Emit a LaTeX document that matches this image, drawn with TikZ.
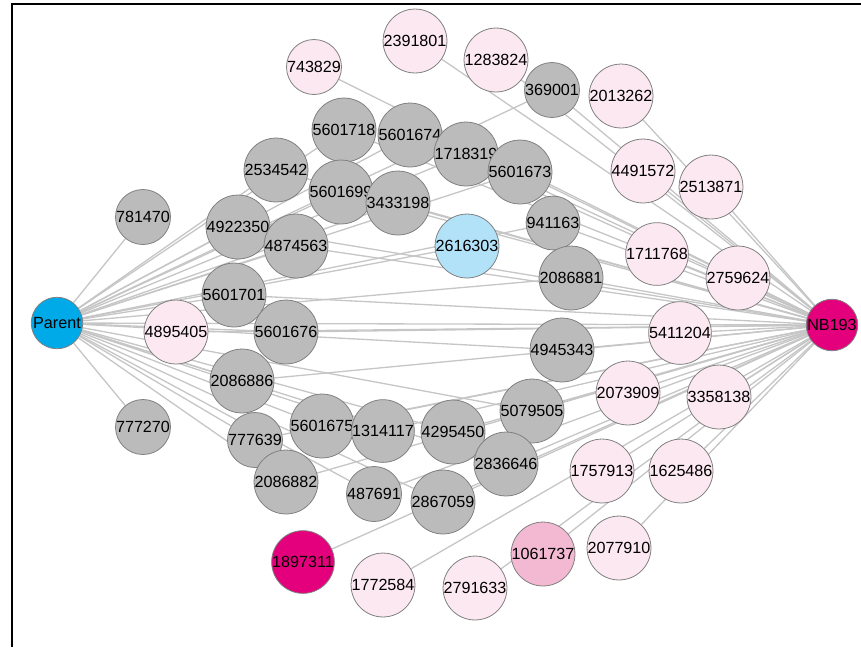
\documentclass[tikz,border=0pt]{standalone}
\usepackage{fontspec}
\setmainfont{Liberation Sans}
\usetikzlibrary{backgrounds}

\begin{document}
\begin{tikzpicture}[x=0.02cm, y=-0.02cm]

\definecolor{parentblue}{RGB}{0, 169, 232}
\definecolor{nbmagenta}{RGB}{228, 0, 124}
\definecolor{nodegrey}{RGB}{187, 187, 187}
\definecolor{palepink}{RGB}{252, 232, 240}
\definecolor{midpink}{RGB}{243, 184, 210}
\definecolor{paleblue}{RGB}{178, 226, 248}
\definecolor{edgegrey}{RGB}{198, 198, 198}

\useasboundingbox (0,0) rectangle (861,647);

% Frame
\draw[line width=1pt] (12,647) -- (12,4) -- (861,4);

\tikzset{
    animal/.style={
        circle, draw=black!50, line width=0.45pt,
        minimum size=1.03cm, inner sep=0pt,
        font=\fontsize{9.2}{10}\selectfont
    },
    shared/.style={animal, fill=nodegrey},
    offspring/.style={animal, fill=palepink},
    carrier/.style={animal, fill=nbmagenta},
    kin/.style={
        draw=edgegrey, line width=0.75pt
    }
}

% --- THE TWO FOCAL ANIMALS ---
\node[animal, fill=parentblue] (Parent) at (57,323) {Parent};
\node[carrier] (NB193) at (832,325) {NB193};

% --- GREY NODES (shared) ---
\node[shared] (n781470) at (143,217) {781470};
\node[shared] (n777270) at (143,427) {777270};
\node[shared] (n5601718) at (344,130) {5601718};
\node[shared] (n5601674) at (410,135) {5601674};
\node[shared] (n2534542) at (276,170) {2534542};
\node[shared] (n5601699) at (341,192) {5601699};
\node[shared] (n3433198) at (398,203) {3433198};
\node[shared] (n4922350) at (238,227) {4922350};
\node[shared] (n4874563) at (296,246) {4874563};
\node[shared] (n5601701) at (234,295) {5601701};
\node[shared] (n5601676) at (286,332) {5601676};
\node[shared] (n2086886) at (242,381) {2086886};
\node[shared] (n777639) at (255,440) {777639};
\node[shared] (n5601675) at (322,426) {5601675};
\node[shared] (n1314117) at (383,431) {1314117};
\node[shared] (n2086882) at (286,482) {2086882};
\node[shared] (n487691) at (374,494) {487691};
\node[shared] (n1718319) at (466,154) {1718319};
\node[shared] (n5601673) at (520,172) {5601673};
\node[shared] (n369001) at (552,90) {369001};
\node[shared] (n941163) at (553,223) {941163};
\node[shared] (n2086881) at (571,278) {2086881};
\node[shared] (n4945343) at (562,350) {4945343};
\node[shared] (n5079505) at (532,411) {5079505};
\node[shared] (n4295450) at (453,432) {4295450};
\node[shared] (n2836646) at (506,464) {2836646};
\node[shared] (n2867059) at (443,502) {2867059};

\node[animal, fill=paleblue] (n2616303) at (467,246) {2616303};

% --- PINK NODES (NB193 side) ---
\node[offspring] (n743829) at (314,67) {743829};
\node[offspring] (n2391801) at (415,41) {2391801};
\node[offspring] (n1283824) at (496,60) {1283824};
\node[offspring] (n2013262) at (621,96) {2013262};
\node[offspring] (n4491572) at (643,171) {4491572};
\node[offspring] (n2513871) at (711,187) {2513871};
\node[offspring] (n1711768) at (657,254) {1711768};
\node[offspring] (n2759624) at (738,278) {2759624};
\node[offspring] (n5411204) at (680,333) {5411204};
\node[offspring] (n4895405) at (176,332) {4895405};
\node[offspring] (n2073909) at (628,393) {2073909};
\node[offspring] (n3358138) at (719,397) {3358138};
\node[offspring] (n1757913) at (602,471) {1757913};
\node[offspring] (n1625486) at (681,471) {1625486};
\node[offspring] (n2077910) at (619,548) {2077910};
\node[offspring] (n2791633) at (475,588) {2791633};
\node[offspring] (n1772584) at (383,585) {1772584};
\node[animal, fill=midpink] (n1061737) at (543,554) {1061737};
\node[carrier] (n1897311) at (303,562) {1897311};

% --- EDGES (behind the nodes) ---
\begin{pgfonlayer}{background}
\draw[kin] (Parent) -- (NB193);
\draw[kin] (Parent) -- (n2616303);
\foreach \n in {781470,777270}
    \draw[kin] (Parent) -- (n\n);
\foreach \n in {5601718,5601674,2534542,5601699,3433198,4922350,4874563,
                5601701,5601676,2086886,777639,5601675,1314117,2086882,
                487691,1718319,5601673,369001,941163,2086881,4945343,
                5079505,4295450,2836646,2867059}
{
    \draw[kin] (Parent) -- (n\n);
    \draw[kin] (NB193) -- (n\n);
}
\foreach \n in {743829,2391801,1283824,2013262,4491572,2513871,1711768,
                2759624,5411204,4895405,2073909,3358138,1757913,1625486,
                2077910,2791633,1772584,1061737,1897311}
    \draw[kin] (NB193) -- (n\n);
\end{pgfonlayer}

\end{tikzpicture}
\end{document}
